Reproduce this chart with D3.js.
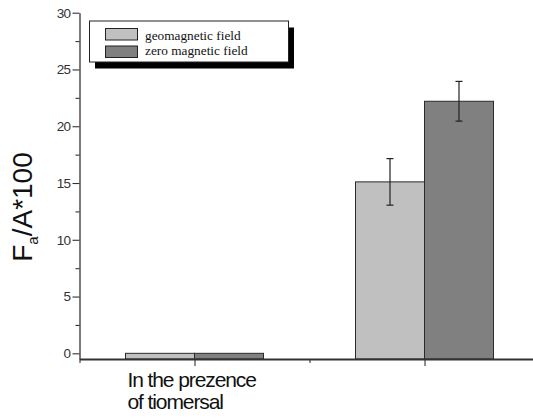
<!DOCTYPE html>
<html>
<head>
<meta charset="utf-8">
<script src="https://cdn.jsdelivr.net/npm/d3@7"></script>
<style>
  html, body { margin: 0; padding: 0; background: #fff; }
  svg { display: block; }
</style>
</head>
<body>
<svg id="chart" width="533" height="419"></svg>
<script>
// Groups along the x axis (position on a 0..4 scale) and their labels
const groupPos = [1, 3];
const groupLabels = [["In the prezence", "of tiomersal"], []];

// Series
const seriesNames = ["geomagnetic field", "zero magnetic field"];
const seriesColors = ["#c0c0c0", "#808080"];
const geomagnetic = [0, 15.1];
const geomagneticErr = [0, 2.05];
const zeroField = [0, 22.2];
const zeroFieldErr = [0, 1.75];

// Axis ticks
const yMajorTicks = [0, 5, 10, 15, 20, 25, 30];
const yMinorTicks = [2.5, 7.5, 12.5, 17.5, 22.5, 27.5];
const xMajorTicks = [1, 3];
const xMinorTicks = [0, 2, 4];

const svg = d3.select("#chart");
const axisColor = "#333";

const x = d3.scaleLinear().domain([0, 4]).range([79.5, 539.5]);
const y = d3.scaleLinear().domain([-0.5, 30]).range([359, 12.7]);
const barW = x(0.6) - x(0);

const series = [
  { vals: geomagnetic, errs: geomagneticErr, offset: -1 },
  { vals: zeroField, errs: zeroFieldErr, offset: 0 }
];

// Bars
series.forEach((s, si) => {
  svg.append("g").selectAll("rect")
    .data(s.vals)
    .join("rect")
    .attr("x", (d, i) => x(groupPos[i]) + s.offset * barW)
    .attr("y", d => y(d))
    .attr("width", barW)
    .attr("height", d => y(-0.5) - y(d))
    .attr("fill", seriesColors[si])
    .attr("stroke", "#2a2a2a")
    .attr("stroke-width", 1);
});

// Error bars
series.forEach((s, si) => {
  const g = svg.append("g").attr("stroke", "#222").attr("stroke-width", 1.2);
  s.vals.forEach((v, i) => {
    const e = s.errs[i];
    if (!e) return;
    const cx = x(groupPos[i]) + s.offset * barW + barW / 2;
    g.append("line").attr("x1", cx).attr("x2", cx).attr("y1", y(v + e)).attr("y2", y(v - e));
    g.append("line").attr("x1", cx - 3.5).attr("x2", cx + 3.5).attr("y1", y(v + e)).attr("y2", y(v + e));
    g.append("line").attr("x1", cx - 3.5).attr("x2", cx + 3.5).attr("y1", y(v - e)).attr("y2", y(v - e));
  });
});

// Y axis
const yAxis = svg.append("g")
  .attr("transform", `translate(${x(0)},0)`)
  .call(d3.axisLeft(y).tickValues(yMajorTicks).tickSize(7).tickSizeOuter(0).tickPadding(2));
yAxis.select(".domain").attr("stroke", axisColor).attr("stroke-width", 1.3);
yAxis.selectAll(".tick line").attr("stroke", axisColor).attr("stroke-width", 1.1);
yAxis.selectAll(".tick text")
  .attr("font-family", "Liberation Sans, Arial, sans-serif")
  .attr("font-size", 13.5)
  .attr("fill", "#333")
  .attr("letter-spacing", -0.6);
svg.append("g")
  .attr("transform", `translate(${x(0)},0)`)
  .call(d3.axisLeft(y).tickValues(yMinorTicks).tickSize(4).tickFormat(""))
  .call(g => g.select(".domain").remove())
  .selectAll(".tick line").attr("stroke", axisColor).attr("stroke-width", 1.1);

// X axis
const xAxis = svg.append("g")
  .attr("transform", `translate(0,${y(-0.5)})`)
  .call(d3.axisBottom(x).tickValues(xMajorTicks).tickSize(7).tickSizeOuter(0).tickFormat(""));
xAxis.select(".domain").attr("stroke", axisColor).attr("stroke-width", 2);
xAxis.selectAll(".tick line").attr("stroke", axisColor).attr("stroke-width", 1.1);
svg.append("g")
  .attr("transform", `translate(0,${y(-0.5)})`)
  .call(d3.axisBottom(x).tickValues(xMinorTicks).tickSize(4).tickFormat(""))
  .call(g => g.select(".domain").remove())
  .selectAll(".tick line").attr("stroke", axisColor).attr("stroke-width", 1.1);

// Group labels
groupLabels.forEach((lines, i) => {
  const t = svg.append("text")
    .attr("x", x(groupPos[i]) - barW + 2)
    .attr("y", 386.7)
    .attr("font-family", "Liberation Sans, Arial, sans-serif")
    .attr("font-size", 21)
    .attr("letter-spacing", -1.1)
    .attr("fill", "#111");
  lines.forEach((ln, k) => {
    t.append("tspan").attr("x", x(groupPos[i]) - barW + 2).attr("dy", k ? 22.3 : 0).text(ln);
  });
});

// Y axis title: F_a/A*100
const title = svg.append("text")
  .attr("transform", "translate(32,207) rotate(-90)")
  .attr("text-anchor", "middle")
  .attr("font-family", "Liberation Sans, Arial, sans-serif")
  .attr("font-size", 28)
  .attr("fill", "#111");
title.append("tspan").text("F");
title.append("tspan").attr("font-size", 15).attr("dy", 6).text("a");
title.append("tspan").attr("dy", -6).text("/A*100");

// Legend
const lg = svg.append("g");
lg.append("rect").attr("x", 95).attr("y", 27.5).attr("width", 199).attr("height", 41).attr("fill", "#000");
lg.append("rect").attr("x", 89.5).attr("y", 21).attr("width", 199).attr("height", 41)
  .attr("fill", "#fff").attr("stroke", "#222").attr("stroke-width", 1);
seriesNames.forEach((name, i) => {
  lg.append("rect")
    .attr("x", 105.5).attr("y", 28.5 + i * 17.5)
    .attr("width", 32).attr("height", 11.5)
    .attr("fill", seriesColors[i]).attr("stroke", "#222").attr("stroke-width", 1);
  lg.append("text")
    .attr("x", 145).attr("y", 40 + i * 14.5)
    .attr("font-family", "Liberation Serif, Times New Roman, serif")
    .attr("font-size", 13.3)
    .attr("fill", "#111")
    .text(name);
});
</script>
</body>
</html>
